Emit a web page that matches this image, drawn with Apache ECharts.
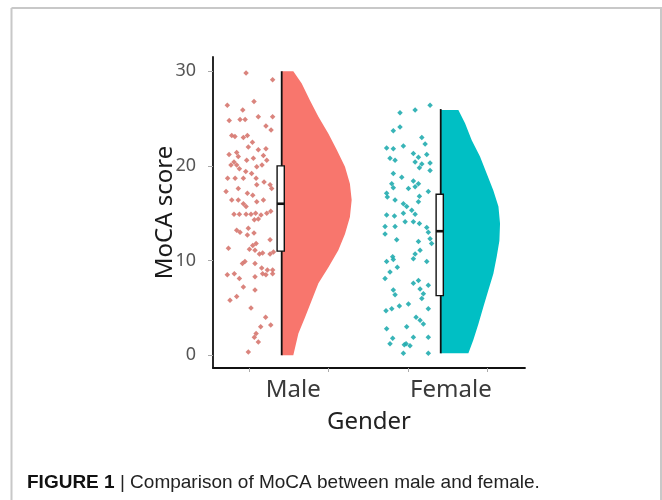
<!DOCTYPE html>
<html>
<head>
<meta charset="utf-8">
<script src="https://cdn.jsdelivr.net/npm/echarts@6/dist/echarts.min.js"></script>
<style>
  html, body { margin: 0; padding: 0; background: #fff; }
  #chart { width: 662px; height: 500px; }
</style>
</head>
<body>
<div id="chart"></div>
<script>
// categories and axis ticks
const categories = ['Male', 'Female'];
const yTicks = [0, 10, 20, 30];

// MoCA scores (jittered raw points), jitter is offset from the group line
const maleScore = [29.8, 29.1, 26.4, 26.8, 25.9, 24.8, 24.9, 24.9, 25.2, 25.2,
  24.2, 23.8, 23.2, 23.1, 23.0, 23.2, 22.5, 22.0, 21.7, 21.8,
  21.2, 21.4, 21.0, 20.4, 20.1, 20.1, 20.6, 20.8, 21.1, 20.6,
  20.1, 19.9, 19.7, 19.4, 19.2, 18.7, 18.7, 18.7, 18.7, 18.3,
  18.0, 18.0, 17.3, 17.6, 17.1, 16.9, 17.6, 16.4, 16.4, 16.0,
  16.2, 16.4, 15.7, 14.9, 14.9, 14.9, 14.9, 15.0, 14.8, 15.0,
  15.2, 14.3, 14.4, 13.2, 13.0, 13.4, 12.9, 12.7, 12.2, 11.8,
  11.6, 11.2, 11.1, 11.3, 10.7, 10.8, 10.7, 10.9, 9.9, 9.7,
  9.7, 9.2, 9.0, 9.0, 8.5, 8.6, 8.1, 8.3, 8.6, 8.5,
  8.6, 7.2, 6.9, 6.2, 5.8, 5.0, 4.0, 3.0, 3.2, 2.3,
  1.9, 1.4, 0.35];
const maleJitter = [-0.224, -0.057, -0.342, -0.174, -0.245, -0.33, -0.262, -0.23, -0.147, -0.057,
  -0.099, -0.067, -0.314, -0.294, -0.241, -0.216, -0.184, -0.21, -0.147, -0.099,
  -0.331, -0.283, -0.273, -0.3, -0.319, -0.283, -0.22, -0.178, -0.115, -0.094,
  -0.124, -0.157, -0.266, -0.226, -0.189, -0.34, -0.293, -0.241, -0.161, -0.111,
  -0.157, -0.073, -0.35, -0.273, -0.216, -0.182, -0.063, -0.314, -0.273, -0.241,
  -0.157, -0.115, -0.224, -0.3, -0.266, -0.224, -0.193, -0.164, -0.13, -0.094,
  -0.069, -0.172, -0.147, -0.283, -0.262, -0.21, -0.174, -0.216, -0.073, -0.161,
  -0.182, -0.203, -0.168, -0.335, -0.14, -0.12, -0.073, -0.052, -0.231, -0.247,
  -0.168, -0.126, -0.09, -0.057, -0.342, -0.298, -0.266, -0.168, -0.12, -0.099,
  -0.057, -0.241, -0.168, -0.283, -0.325, -0.193, -0.101, -0.132, -0.069, -0.161,
  -0.172, -0.147, -0.21];

const femaleScore = [26.4, 25.9, 25.6, 24.1, 23.7, 23.0, 22.3, 21.9, 21.8, 22.1,
  21.3, 21.2, 20.8, 20.6, 20.9, 20.4, 19.8, 20.2, 20.3, 19.5,
  19.2, 18.8, 18.4, 18.1, 18.1, 17.7, 17.6, 17.8, 17.3, 17.1,
  16.7, 16.8, 16.4, 16.0, 15.7, 16.2, 15.3, 14.9, 14.8, 14.7,
  15.0, 14.1, 14.1, 13.9, 13.6, 13.6, 13.5, 12.8, 13.0, 12.3,
  12.2, 12.0, 11.8, 11.1, 10.7, 10.4, 9.9, 10.1, 10.2, 9.9,
  9.3, 8.8, 8.1, 6.9, 6.4, 7.6, 7.9, 7.0, 6.5, 7.4,
  6.0, 4.7, 4.9, 5.2, 5.4, 4.9, 4.0, 3.7, 3.3, 2.8,
  3.0, 1.9, 1.8, 1.1, 1.2, 1.0, 0.2, 0.2, 1.2, 1.9];
const femaleJitter = [-0.067, -0.161, -0.256, -0.256, -0.298, -0.119, -0.098, -0.34, -0.298, -0.235,
  -0.172, -0.088, -0.319, -0.287, -0.14, -0.161, -0.134, -0.119, -0.067, -0.067,
  -0.298, -0.245, -0.172, -0.14, -0.308, -0.298, -0.203, -0.161, -0.078, -0.34,
  -0.336, -0.134, -0.287, -0.235, -0.214, -0.14, -0.182, -0.161, -0.34, -0.291,
  -0.235, -0.224, -0.172, -0.134, -0.35, -0.287, -0.088, -0.35, -0.078, -0.067,
  -0.277, -0.14, -0.057, -0.13, -0.161, -0.302, -0.34, -0.298, -0.172, -0.088,
  -0.273, -0.319, -0.35, -0.298, -0.287, -0.172, -0.14, -0.13, -0.109, -0.078,
  -0.119, -0.344, -0.308, -0.26, -0.203, -0.078, -0.155, -0.13, -0.109, -0.34,
  -0.214, -0.078, -0.302, -0.229, -0.218, -0.193, -0.235, -0.078, -0.319, -0.172];

// half violin: score level and half width (x units)
const maleDensityY = [0, 2.3, 4.0, 5.8, 7.6, 9.3, 11.1, 12.8, 14.6, 16.4, 18.1, 19.9, 21.7, 23.4, 25.2, 26.9, 28.7, 30];
const maleDensityW = [0.073, 0.105, 0.147, 0.189, 0.231, 0.294, 0.356, 0.398, 0.429, 0.44, 0.429, 0.398, 0.346, 0.294, 0.231, 0.178, 0.126, 0.073];
const femaleDensityY = [0.2, 1.6, 3.3, 5.1, 6.9, 8.6, 10.4, 12.1, 13.9, 15.7, 17.4, 19.2, 21.0, 22.7, 24.5, 25.9];
const femaleDensityW = [0.174, 0.205, 0.237, 0.268, 0.300, 0.331, 0.352, 0.369, 0.373, 0.363, 0.331, 0.289, 0.247, 0.195, 0.153, 0.111];

// boxplot stats: min, q1, median, q3, max
const maleBox = [0, 11, 16, 20, 30];
const femaleBox = [0.2, 6.3, 13.1, 17, 26];

const colors = ['#F8766D', '#00BFC4'];
const pointColors = ['#d6776f', '#22acaf'];

const chart = echarts.init(document.getElementById('chart'), null, { renderer: 'canvas' });

// half violin polygon
function violin(ys, ws, color) {
  return function (params, api) {
    const pos = api.value(0);
    const pts = [];
    for (let i = 0; i < ys.length; i++) {
      pts.push(api.coord([pos + ws[i], ys[i]]));
    }
    pts.push(api.coord([pos, ys[ys.length - 1]]));
    pts.push(api.coord([pos, ys[0]]));
    return { type: 'polygon', shape: { points: pts }, style: { fill: color } };
  };
}

function boxItem(params, api) {
  const pos = api.value(0);
  const lo = api.coord([pos, api.value(1)]);
  const q1 = api.coord([pos, api.value(2)]);
  const md = api.coord([pos, api.value(3)]);
  const q3 = api.coord([pos, api.value(4)]);
  const hi = api.coord([pos, api.value(5)]);
  const hw = 3.6;
  return {
    type: 'group',
    children: [
      { type: 'line', shape: { x1: lo[0], y1: lo[1], x2: hi[0], y2: hi[1] }, style: { stroke: '#111', lineWidth: 1.8 } },
      { type: 'rect', shape: { x: q3[0] - hw - 1, y: q3[1], width: hw * 2, height: q1[1] - q3[1] }, style: { fill: '#fff', stroke: '#111', lineWidth: 1.4 } },
      { type: 'line', shape: { x1: md[0] - hw - 1, y1: md[1], x2: md[0] + hw - 1, y2: md[1] }, style: { stroke: '#111', lineWidth: 2.6 } }
    ]
  };
}

function points(jit, score, pos) {
  return score.map((v, i) => [pos + jit[i], v]);
}

const option = {
  animation: false,
  backgroundColor: '#fff',
  grid: { left: 213, right: 137, top: 57, bottom: 132 },
  xAxis: {
    type: 'value',
    min: 0.568,
    max: 2.53,
    name: 'Gender',
    nameLocation: 'middle',
    nameGap: 42,
    nameMoveOverlap: false,
    nameTextStyle: { fontFamily: 'Noto Sans', fontSize: 24, color: '#222' },
    splitLine: { show: false },
    axisLine: { show: true, onZero: false, lineStyle: { color: '#111', width: 1.8 } },
    axisTick: { show: true, length: 4, customValues: [0.797, 1.293, 1.796, 2.293], lineStyle: { color: '#aaa', width: 1 } },
    axisLabel: {
      customValues: [1.073, 2.064],
      margin: 10,
      fontFamily: 'Noto Sans',
      fontSize: 24,
      color: '#3a3a3a',
      formatter: v => (v < 1.5 ? categories[0] : categories[1])
    }
  },
  yAxis: {
    type: 'value',
    min: -1.35,
    max: 31.5,
    name: 'MoCA score',
    nameLocation: 'middle',
    nameGap: 36,
    nameRotate: 90,
    nameMoveOverlap: false,
    nameTextStyle: { fontFamily: 'Noto Sans', fontSize: 24, color: '#1a1a1a' },
    splitLine: { show: false },
    axisLine: { show: true, onZero: false, lineStyle: { color: '#111', width: 1.8 } },
    axisTick: { show: true, length: 5, customValues: yTicks, lineStyle: { color: '#aaa', width: 1 } },
    axisLabel: {
      customValues: yTicks,
      margin: 17,
      fontFamily: 'Noto Sans',
      fontSize: 18,
      color: '#555'
    }
  },
  series: [
    { type: 'custom', renderItem: violin(maleDensityY, maleDensityW, colors[0]), data: [[1, 15]], z: 1, silent: true },
    { type: 'custom', renderItem: violin(femaleDensityY, femaleDensityW, colors[1]), data: [[2, 13]], z: 1, silent: true },
    { type: 'scatter', data: points(maleJitter, maleScore, 1), symbol: 'diamond', symbolSize: 5.5, itemStyle: { color: pointColors[0], opacity: 0.9 }, z: 2 },
    { type: 'scatter', data: points(femaleJitter, femaleScore, 2), symbol: 'diamond', symbolSize: 5.5, itemStyle: { color: pointColors[1], opacity: 0.9 }, z: 2 },
    {
      type: 'custom', renderItem: boxItem, z: 3,
      encode: { x: 0, y: [1, 2, 3, 4, 5] },
      data: [[1].concat(maleBox), [2].concat(femaleBox)]
    }
  ],
  graphic: [
    { type: 'line', shape: { x1: 11.5, y1: 8, x2: 662, y2: 8 }, style: { stroke: '#c8c8c8', lineWidth: 2 } },
    { type: 'line', shape: { x1: 11.5, y1: 8, x2: 11.5, y2: 500 }, style: { stroke: '#c8c8c8', lineWidth: 2 } },
    { type: 'line', shape: { x1: 661, y1: 8, x2: 661, y2: 500 }, style: { stroke: '#c8c8c8', lineWidth: 2 } },
    {
      type: 'text', left: 27, top: 473,
      style: {
        text: '{b|FIGURE 1} | Comparison of MoCA between male and female.',
        font: '19px "Liberation Sans"',
        fill: '#222',
        rich: { b: { fontWeight: 'bold', fontSize: 19, fontFamily: 'Liberation Sans', fill: '#111' } }
      }
    }
  ]
};

chart.setOption(option);
</script>
</body>
</html>
